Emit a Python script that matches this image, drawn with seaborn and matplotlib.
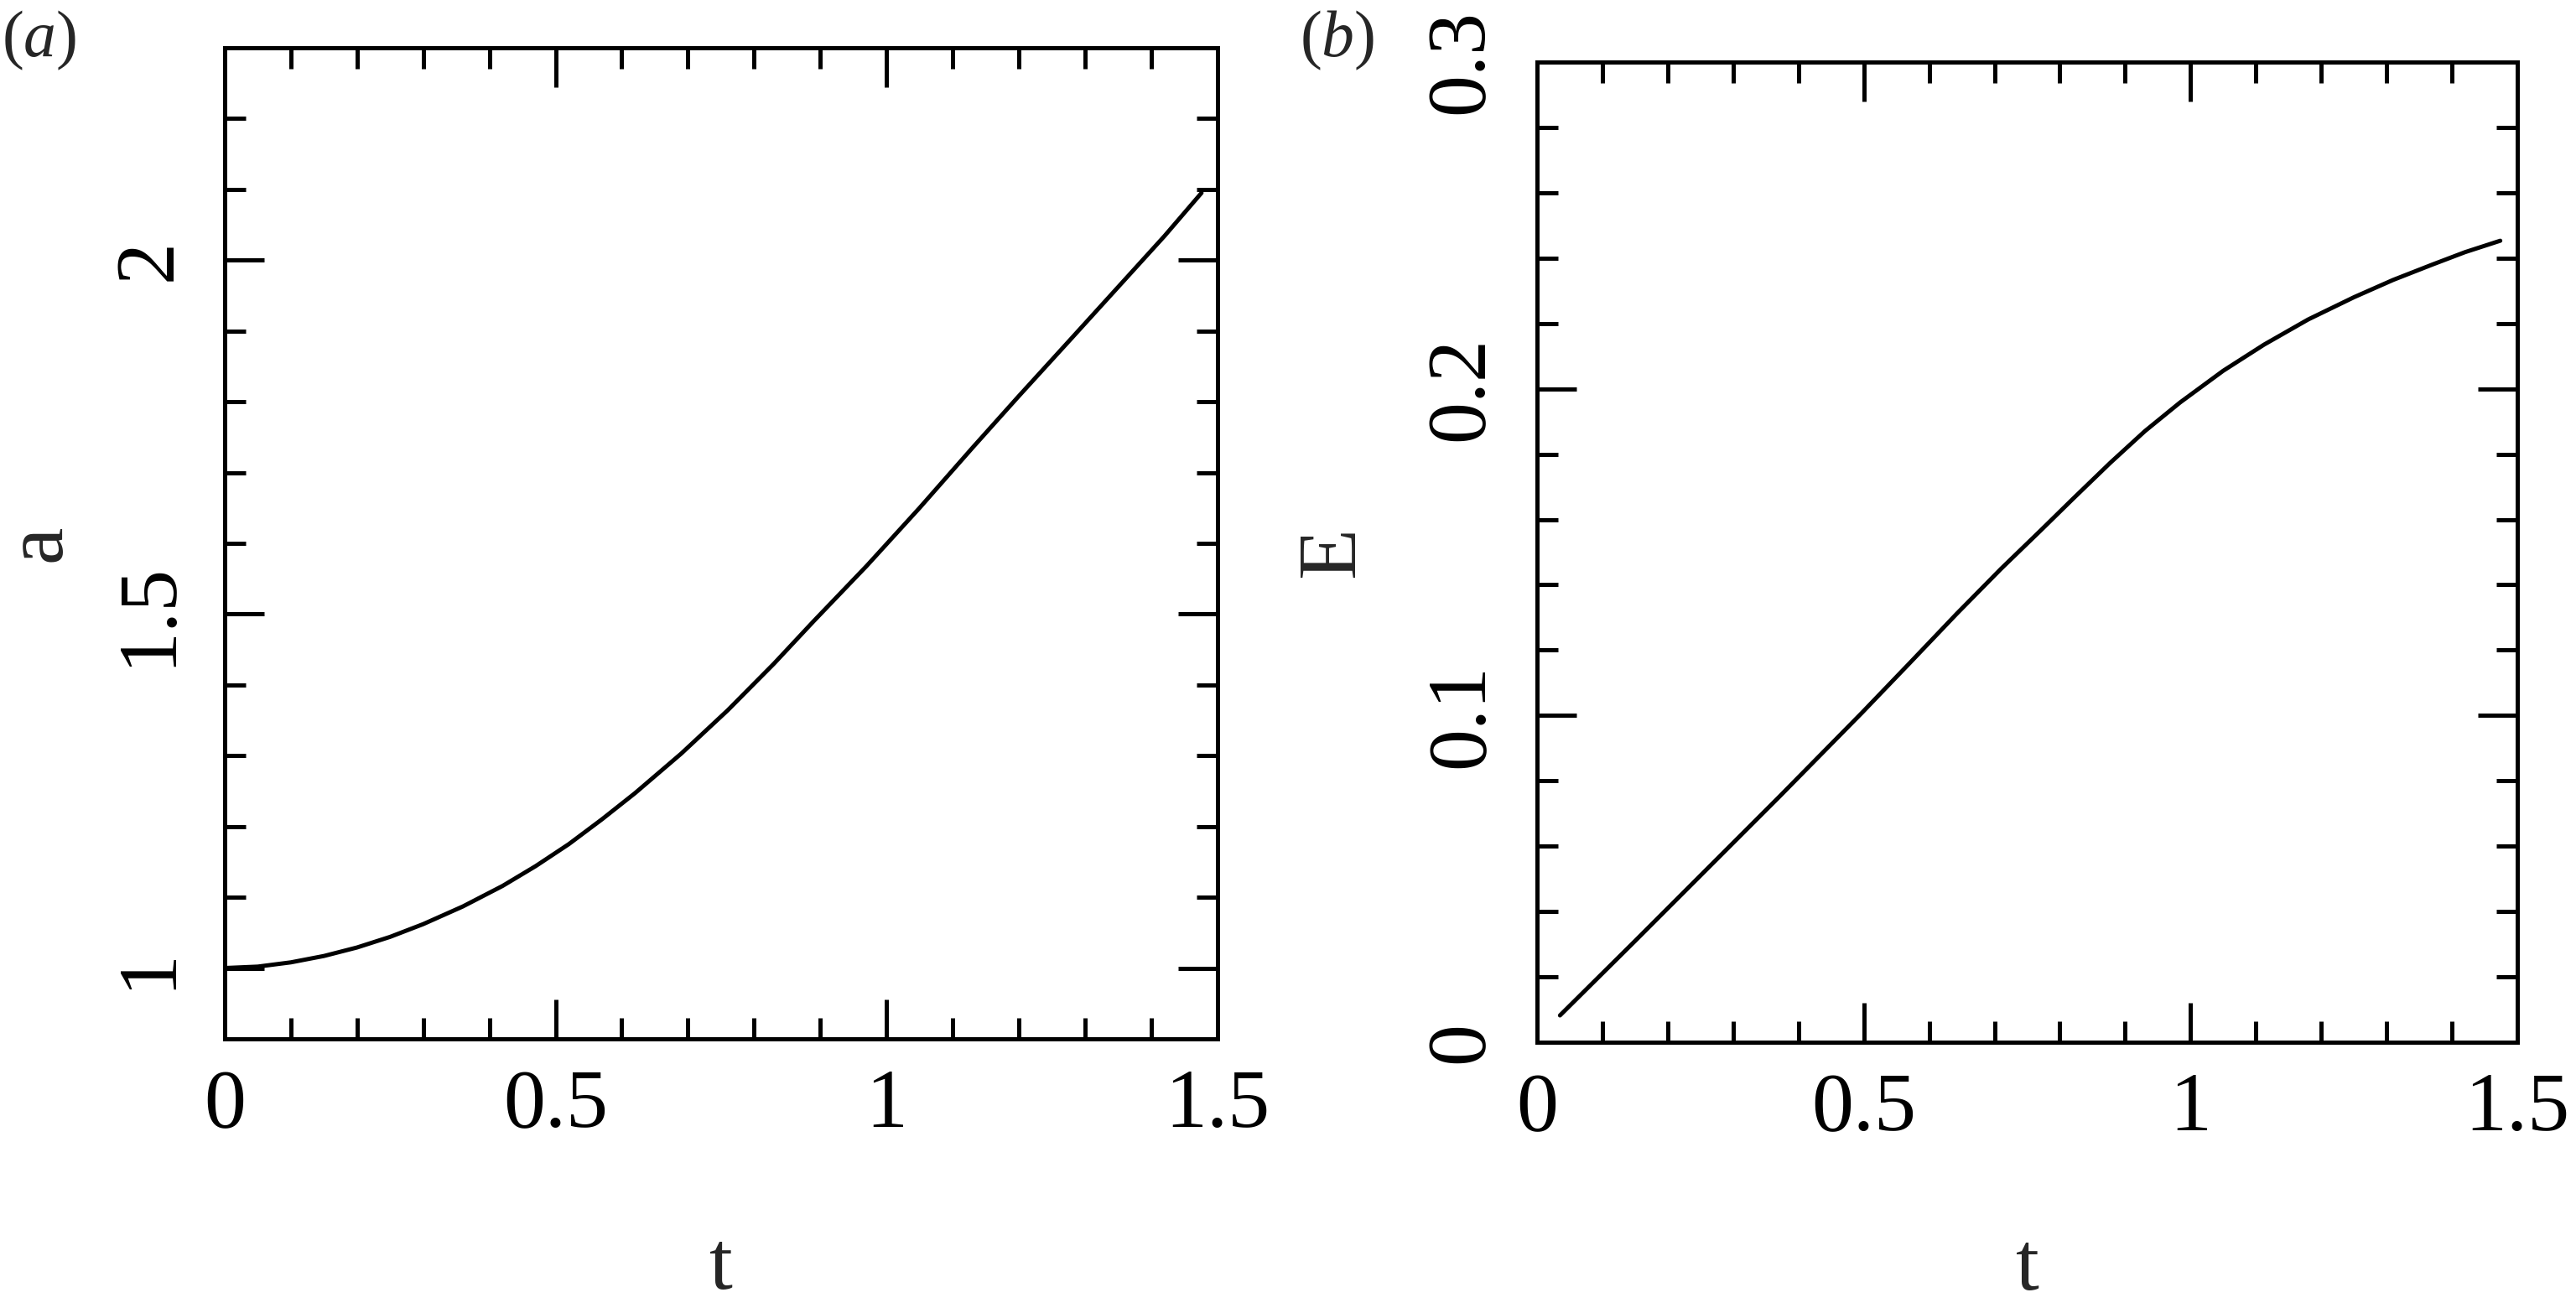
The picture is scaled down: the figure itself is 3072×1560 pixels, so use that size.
import matplotlib
matplotlib.use("Agg")
import matplotlib.pyplot as plt
import seaborn as sns
from matplotlib.ticker import MultipleLocator, FuncFormatter

# panel (a): scale factor a(t)
t_a = [0.0, 0.05, 0.1, 0.15, 0.2, 0.25, 0.3, 0.36, 0.42, 0.47, 0.52, 0.57, 0.62,
       0.69, 0.76, 0.83, 0.89, 0.97, 1.05, 1.13, 1.2, 1.28, 1.35, 1.42, 1.476]
a_vals = [1.0, 1.002, 1.008, 1.017, 1.029, 1.044, 1.062, 1.087, 1.116, 1.144, 1.175, 1.21, 1.247,
          1.303, 1.364, 1.43, 1.49, 1.568, 1.65, 1.735, 1.808, 1.89, 1.962, 2.034, 2.095]

# panel (b): E(t)
t_b = [0.035, 0.15, 0.25, 0.37, 0.497, 0.57, 0.642, 0.71, 0.77, 0.82, 0.877, 0.93, 0.984,
       1.05, 1.1125, 1.18, 1.25, 1.31, 1.37, 1.42, 1.474]
e_vals = [0.0082, 0.031, 0.051, 0.075, 0.1008, 0.116, 0.1311, 0.1449, 0.1565, 0.1663, 0.1773, 0.187, 0.1958,
          0.2055, 0.2135, 0.2212, 0.228, 0.2333, 0.238, 0.2418, 0.2453]

sns.set_theme(style="ticks")
plt.rcParams['font.family'] = ['Liberation Serif', 'DejaVu Serif']
plt.rcParams['mathtext.fontset'] = 'custom'
plt.rcParams['mathtext.rm'] = 'Liberation Serif'
plt.rcParams['mathtext.it'] = 'Liberation Serif:italic'
plt.rcParams['lines.solid_joinstyle'] = 'round'

fig = plt.figure(figsize=(15.36, 7.8), dpi=200)
ax1 = fig.add_axes([0.0872, 0.2058, 0.3854, 0.7577])
ax2 = fig.add_axes([0.5967, 0.2032, 0.3805, 0.7494])

fmt = FuncFormatter(lambda v, p: f'{v:g}')

sns.lineplot(x=t_a, y=a_vals, ax=ax1, color='black', lw=1.8)
sns.lineplot(x=t_b, y=e_vals, ax=ax2, color='black', lw=1.8)

ax1.set_xlim(0, 1.5)
ax1.set_ylim(0.9, 2.3)
ax1.yaxis.set_major_locator(MultipleLocator(0.5))
ax1.yaxis.set_minor_locator(MultipleLocator(0.1))

ax2.set_xlim(0, 1.5)
ax2.set_ylim(0, 0.3)
ax2.yaxis.set_major_locator(MultipleLocator(0.1))
ax2.yaxis.set_minor_locator(MultipleLocator(0.02))

for ax, ylab, ylx in [(ax1, 'a', -0.186), (ax2, 'E', -0.208)]:
    ax.xaxis.set_major_locator(MultipleLocator(0.5))
    ax.xaxis.set_minor_locator(MultipleLocator(0.1))
    ax.xaxis.set_major_formatter(fmt)
    ax.yaxis.set_major_formatter(fmt)
    for s in ax.spines.values():
        s.set_linewidth(1.8)
        s.set_color('black')
    ax.tick_params(which='both', direction='in', top=True, right=True,
                   width=1.8, color='black', labelsize=36, labelcolor='black')
    ax.tick_params(which='major', length=17)
    ax.tick_params(which='minor', length=9)
    ax.tick_params(axis='x', which='major', pad=13)
    ax.tick_params(axis='y', which='major', pad=16)
    for lbl in ax.get_yticklabels():
        lbl.set_rotation(90)
        lbl.set_va('center')
    ax.set_xlabel('t', fontsize=36, va='center')
    ax.set_ylabel(ylab, fontsize=36, va='center')
    ax.xaxis.set_label_coords(0.5, -0.232)
    ax.yaxis.set_label_coords(ylx, 0.5)

fig.text(0.0007, 0.993, r'($\mathit{a}$)', fontsize=28, ha='left', va='top')
fig.text(0.5046, 0.993, r'($\mathit{b}$)', fontsize=28, ha='left', va='top')

fig.savefig('out.png', dpi=200, facecolor='white')
